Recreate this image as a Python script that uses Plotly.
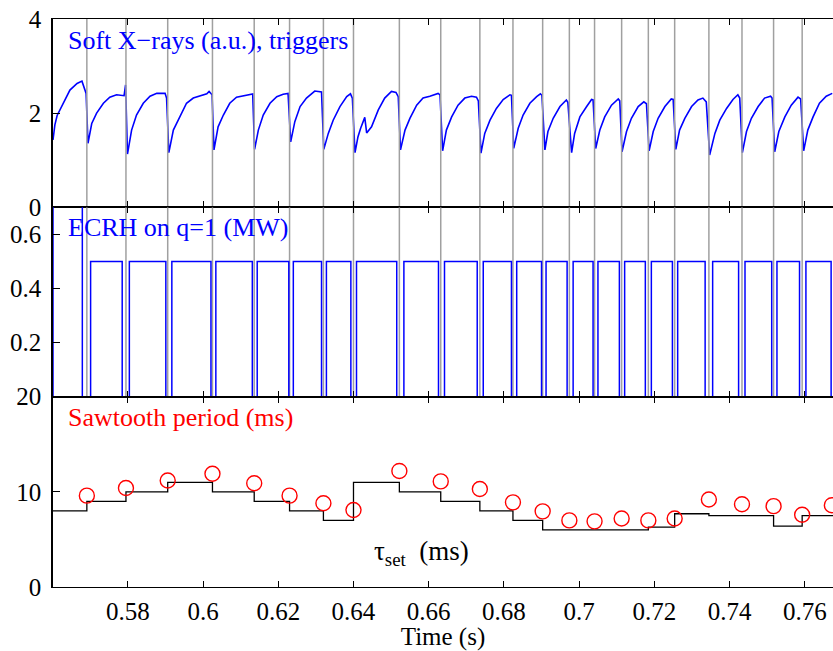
import plotly.graph_objects as go

# ---------------- data ----------------
x_start, x_end = 0.5601, 0.7675

triggers = [0.5691, 0.5795, 0.5906, 0.6025, 0.6136, 0.6230, 0.6320, 0.6400, 0.6522,
            0.6632, 0.6736, 0.6824, 0.6903, 0.6974, 0.7041, 0.7113, 0.7184, 0.7254,
            0.7345, 0.7433, 0.7517, 0.7593]

# soft X-ray signal (a.u.)
sxr_t = [0.5601, 0.5606, 0.5612, 0.5628, 0.5646, 0.5665, 0.5678, 0.5689,
         0.5694, 0.5704, 0.5717, 0.5735, 0.5752, 0.5770, 0.5790, 0.5794,
         0.5799, 0.5810, 0.5823, 0.5841, 0.5859, 0.5877, 0.5899, 0.5903,
         0.5909, 0.5921, 0.5939, 0.5956, 0.5974, 0.5992, 0.6010, 0.6016, 0.6024,
         0.6029, 0.6040, 0.6054, 0.6071, 0.6089, 0.6107, 0.6125, 0.6132,
         0.6137, 0.6147, 0.6160, 0.6178, 0.6196, 0.6213, 0.6226,
         0.6233, 0.6244, 0.6258, 0.6275, 0.6291, 0.6297, 0.6315,
         0.6321, 0.6333, 0.6346, 0.6364, 0.6382, 0.6392, 0.6397,
         0.6404, 0.6412, 0.6419, 0.6426, 0.6430, 0.6435, 0.6448, 0.6466, 0.6483, 0.6501, 0.6513, 0.6519,
         0.6525, 0.6537, 0.6550, 0.6568, 0.6585, 0.6603, 0.6625, 0.6630,
         0.6637, 0.6647, 0.6661, 0.6678, 0.6696, 0.6714, 0.6727, 0.6732,
         0.6739, 0.6749, 0.6763, 0.6780, 0.6798, 0.6816, 0.6820,
         0.6826, 0.6838, 0.6851, 0.6869, 0.6887, 0.6897, 0.6901,
         0.6909, 0.6917, 0.6931, 0.6949, 0.6966, 0.6970,
         0.6980, 0.6988, 0.7002, 0.7020, 0.7033, 0.7037,
         0.7044, 0.7055, 0.7068, 0.7086, 0.7104, 0.7108,
         0.7114, 0.7126, 0.7139, 0.7157, 0.7172, 0.7179,
         0.7186, 0.7197, 0.7210, 0.7228, 0.7245, 0.7250,
         0.7257, 0.7267, 0.7281, 0.7299, 0.7316, 0.7329, 0.7338,
         0.7347, 0.7361, 0.7374, 0.7392, 0.7409, 0.7422, 0.7427,
         0.7434, 0.7445, 0.7458, 0.7476, 0.7493, 0.7509, 0.7513,
         0.7520, 0.7531, 0.7547, 0.7564, 0.7582, 0.7589,
         0.7597, 0.7608, 0.7622, 0.7639, 0.7657, 0.7673]
sxr_v = [1.43, 1.75, 1.95, 2.21, 2.49, 2.63, 2.68, 2.42,
         1.36, 1.78, 2.00, 2.21, 2.34, 2.39, 2.37, 2.60,
         1.13, 1.64, 1.96, 2.21, 2.36, 2.42, 2.42, 2.32,
         1.16, 1.64, 1.94, 2.21, 2.32, 2.36, 2.41, 2.46, 2.39,
         1.22, 1.71, 1.96, 2.21, 2.34, 2.37, 2.41, 2.41,
         1.23, 1.64, 1.96, 2.21, 2.35, 2.40, 2.42,
         1.39, 1.82, 2.14, 2.32, 2.42, 2.47, 2.45,
         1.23, 1.57, 1.85, 2.14, 2.35, 2.41, 2.32,
         1.16, 1.50, 1.68, 1.85, 1.91, 1.58, 1.71, 2.07, 2.32, 2.46, 2.44, 2.35,
         1.22, 1.64, 1.89, 2.17, 2.32, 2.36, 2.42, 2.39,
         1.20, 1.64, 1.92, 2.17, 2.32, 2.36, 2.34, 2.26,
         1.15, 1.57, 1.85, 2.10, 2.29, 2.39, 2.38,
         1.25, 1.68, 1.96, 2.21, 2.35, 2.41, 2.38,
         1.22, 1.61, 1.89, 2.14, 2.28, 2.23,
         1.16, 1.57, 1.92, 2.14, 2.29, 2.28,
         1.25, 1.64, 1.92, 2.17, 2.30, 2.26,
         1.18, 1.61, 1.89, 2.14, 2.24, 2.20,
         1.20, 1.61, 1.89, 2.14, 2.30, 2.29,
         1.23, 1.64, 1.89, 2.14, 2.28, 2.32, 2.24,
         1.11, 1.57, 1.85, 2.10, 2.29, 2.39, 2.32,
         1.16, 1.61, 1.89, 2.14, 2.32, 2.36, 2.32,
         1.18, 1.61, 1.92, 2.17, 2.34, 2.30,
         1.20, 1.64, 1.92, 2.21, 2.36, 2.42]

# ECRH power (MW): switch-on / switch-off times and level while on
ecrh_on = [0.5601, 0.5701, 0.5804, 0.5917, 0.6034, 0.6144, 0.6240, 0.6328, 0.6408,
           0.6534, 0.6642, 0.6745, 0.6834, 0.6912, 0.6984, 0.7050, 0.7121, 0.7192,
           0.7262, 0.7355, 0.7441, 0.7526, 0.7603]
ecrh_off = [0.5679, 0.5785, 0.5901, 0.6021, 0.6131, 0.6228, 0.6315, 0.6393, 0.6515,
            0.6626, 0.6729, 0.6820, 0.6900, 0.6968, 0.7037, 0.7107, 0.7176, 0.7248,
            0.7335, 0.7424, 0.7512, 0.7586, 0.7670]
ecrh_level = [0.75, 0.50, 0.50, 0.50, 0.50, 0.50, 0.50, 0.50, 0.50,
              0.50, 0.50, 0.50, 0.50, 0.50, 0.50, 0.50, 0.50, 0.50,
              0.50, 0.50, 0.50, 0.50, 0.50]

# measured sawtooth period (ms)
period_t = triggers + [0.7672]
period_v = [9.6, 10.4, 11.2, 11.9, 10.9, 9.6, 8.8, 8.1, 12.2, 11.1, 10.3, 8.9,
            7.95, 7.0, 6.9, 7.2, 7.0, 7.2, 9.2, 8.7, 8.5, 7.6, 8.6]

# requested period tau_set (ms), piecewise constant
tau_t = [0.5601, 0.5691, 0.5795, 0.5906, 0.6025, 0.6136, 0.6230, 0.6320, 0.6400,
         0.6522, 0.6632, 0.6736, 0.6824, 0.6903, 0.7184, 0.7254, 0.7345, 0.7517, 0.7593]
tau_v = [8, 9, 10, 11, 10, 9, 8, 7, 11, 10, 9, 8, 7, 6, 6.3, 7.7, 7.5, 6.4, 7.5]

xticks = [0.58, 0.60, 0.62, 0.64, 0.66, 0.68, 0.70, 0.72, 0.74, 0.76]
xtick_text = ["0.58", "0.6", "0.62", "0.64", "0.66", "0.68", "0.7", "0.72", "0.74", "0.76"]

# ---------------- figure ----------------
BLUE = "#0000ff"
RED = "#ff0000"
GRAY = "#a0a0a0"
FONT = "Liberation Serif, Times New Roman, serif"

fig = go.Figure()

# trigger lines
trig_x, trig_y1, trig_y2 = [], [], []
for t in triggers:
    trig_x += [t, t, None]
    trig_y1 += [0, 4, None]
    trig_y2 += [0, 0.7, None]

fig.add_trace(go.Scatter(x=sxr_t, y=sxr_v, mode="lines", line=dict(color=BLUE, width=1.6),
                         xaxis="x", yaxis="y", hoverinfo="skip"))
fig.add_trace(go.Scatter(x=trig_x, y=trig_y1, mode="lines", line=dict(color=GRAY, width=1.5),
                         xaxis="x", yaxis="y", hoverinfo="skip"))

# ECRH steps
ex, ey = [ecrh_on[0]], [0]
for on, off, lv in zip(ecrh_on, ecrh_off, ecrh_level):
    ex += [on, off]
    ey += [lv, 0]
ex.append(x_end)
ey.append(0)
fig.add_trace(go.Scatter(x=trig_x, y=trig_y2, mode="lines", line=dict(color=GRAY, width=1.5),
                         xaxis="x2", yaxis="y2", hoverinfo="skip"))
fig.add_trace(go.Scatter(x=ex, y=ey, mode="lines", line=dict(color=BLUE, width=1.5, shape="hv"),
                         xaxis="x2", yaxis="y2", hoverinfo="skip"))

# tau_set and periods
fig.add_trace(go.Scatter(x=tau_t + [x_end], y=tau_v + [tau_v[-1]], mode="lines",
                         line=dict(color="black", width=1.3, shape="hv"),
                         xaxis="x3", yaxis="y3", hoverinfo="skip"))
fig.add_trace(go.Scatter(x=period_t, y=period_v, mode="markers",
                         marker=dict(symbol="circle-open", size=15, color=RED, line=dict(width=1.4, color=RED)),
                         xaxis="x3", yaxis="y3", hoverinfo="skip"))

axis_common = dict(showline=True, linecolor="black", ticks="inside",
                   tickcolor="black", tickwidth=1.3, showgrid=False, zeroline=False,
                   tickfont=dict(family=FONT, size=25, color="black"))

xcommon = dict(axis_common, range=[x_start, x_end], tickvals=xticks, ticktext=xtick_text,
               ticklen=6, mirror="ticks", linewidth=1.1)
ycommon = dict(axis_common, ticklen=7, mirror=False, ticklabelstandoff=5, linewidth=1.6)

fig.update_layout(
    width=833, height=651,
    margin=dict(l=53, r=0, t=19, b=64),
    paper_bgcolor="white", plot_bgcolor="white",
    showlegend=False,
    font=dict(family=FONT, size=25, color="black"),
    xaxis=dict(xcommon, anchor="y", showticklabels=False),
    xaxis2=dict(xcommon, anchor="y2", showticklabels=False, matches="x"),
    xaxis3=dict(xcommon, anchor="y3", showticklabels=True, matches="x", ticklabelstandoff=2,
                title=dict(text="Time (s)", standoff=5, font=dict(family=FONT, size=25))),
    yaxis=dict(ycommon, domain=[0.6685, 1.0], range=[0, 4], tickvals=[0, 2, 4]),
    yaxis2=dict(ycommon, domain=[0.335, 0.6685], range=[0, 0.7], tickvals=[0.2, 0.4, 0.6],
                ticktext=["0.2", "0.4", "0.6"]),
    yaxis3=dict(ycommon, domain=[0.0, 0.335], range=[0, 20], tickvals=[0, 10, 20]),
    annotations=[
        dict(text="Soft X\u2212rays (a.u.), triggers", xref="x domain", yref="y domain",
             x=0.017, y=0.888, xanchor="left", yanchor="middle", showarrow=False,
             font=dict(family=FONT, size=26, color=BLUE)),
        dict(text="ECRH on q=1 (MW)", xref="x2 domain", yref="y2 domain",
             x=0.017, y=0.891, xanchor="left", yanchor="middle", showarrow=False,
             font=dict(family=FONT, size=26, color=BLUE)),
        dict(text="Sawtooth period (ms)", xref="x3 domain", yref="y3 domain",
             x=0.017, y=0.893, xanchor="left", yanchor="middle", showarrow=False,
             font=dict(family=FONT, size=26, color=RED)),
        dict(text="\u03c4<sub>set</sub>  (ms)", xref="x3 domain", yref="y3 domain",
             x=0.472, y=0.18, xanchor="center", yanchor="middle", showarrow=False,
             font=dict(family=FONT, size=27, color="black")),
    ],
)

fig.write_html("out.html", post_script="document.body.style.margin='0';",
               config={"displayModeBar": False})
